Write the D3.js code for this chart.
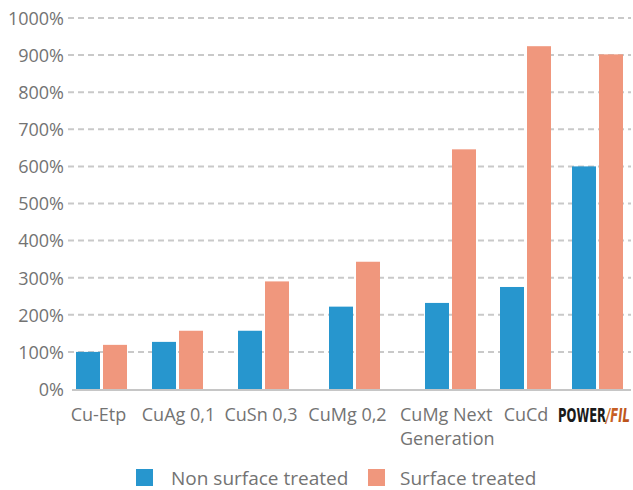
<!DOCTYPE html>
<html><head><meta charset="utf-8">
<script src="https://cdn.jsdelivr.net/npm/d3@7"></script>
<style>
html,body{margin:0;padding:0;background:#fff;}
svg{display:block;font-family:"Open Sans",sans-serif;}
</style></head>
<body>
<svg id="chart" width="633" height="490"></svg>
<script>
const categories = ["Cu-Etp","CuAg 0,1","CuSn 0,3","CuMg 0,2","CuMg Next Generation","CuCd","POWERFIL"];
const nonSurfaceTreated = [100,127,157,222,232,275,600];
const surfaceTreated = [119,157,290,343,646,924,902];
const seriesNames = ["Non surface treated","Surface treated"];
const yTicks = [0,100,200,300,400,500,600,700,800,900,1000];

const colors = {"Non surface treated":"#2796ce","Surface treated":"#f0977d"};
const svg = d3.select("#chart");

const y = d3.scaleLinear().domain([0,1000]).range([389,18]);
// group left edges (layout)
const x0 = d3.scaleOrdinal().domain(categories).range([76,152,238,329,425,500,572]);
const x1 = d3.scaleBand().domain(seriesNames).range([0,51]).paddingInner(0.111);
// label centres (layout)
const xl = d3.scaleOrdinal().domain(categories).range([98.5,178.5,261,347.5,446,526,594]);

// gridlines
svg.append("g").selectAll("line").data(yTicks.filter(d=>d>0)).join("line")
  .attr("x1",68).attr("x2",631).attr("y1",d=>y(d)).attr("y2",d=>y(d))
  .attr("stroke","#c9c9c9").attr("stroke-width",2).attr("stroke-dasharray","6,4");

// y axis labels
const yAxis = d3.axisLeft(y).tickValues(yTicks).tickFormat(d=>d+"%").tickSize(0).tickPadding(0);
const ga = svg.append("g").attr("transform","translate(64,0)").call(yAxis);
ga.select(".domain").remove();
ga.selectAll("text").attr("font-size",18).attr("fill","#737373").attr("font-family","Open Sans, sans-serif").attr("dy","0.35em");

// bars
const rows = categories.map((c,i)=>({cat:c, vals:[
  {s:seriesNames[0], v:nonSurfaceTreated[i]},
  {s:seriesNames[1], v:surfaceTreated[i]}]}));
const g = svg.append("g");
g.selectAll("g").data(rows).join("g")
  .attr("transform",d=>`translate(${x0(d.cat)},0)`)
  .selectAll("rect").data(d=>d.vals).join("rect")
  .attr("x",d=>x1(d.s)).attr("width",x1.bandwidth())
  .attr("y",d=>y(d.v)).attr("height",d=>y(0)-y(d.v))
  .attr("fill",d=>colors[d.s]);

// baseline
svg.append("line").attr("x1",72).attr("x2",631).attr("y1",y(0)+1).attr("y2",y(0)+1)
  .attr("stroke","#c6c6c6").attr("stroke-width",2);

// x labels
const defs = svg.append("defs");
const grad = defs.append("linearGradient").attr("id","filgrad").attr("x1","0").attr("x2","1");
grad.append("stop").attr("offset","0").attr("stop-color","#f2b27f");
grad.append("stop").attr("offset","0.5").attr("stop-color","#d9712f");
grad.append("stop").attr("offset","1").attr("stop-color","#b9501a");

categories.forEach(c=>{
  if(c==="POWERFIL"){
    const lx = xl(c) - 36;
    const lg = svg.append("g");
    const t = lg.append("text").attr("x",0).attr("y",0)
      .attr("font-family","DejaVu Sans, sans-serif").attr("font-size",20).attr("font-weight","bold");
    t.append("tspan").attr("fill","#1a1a1a").text("POWER");
    t.append("tspan").attr("font-style","italic").attr("fill","url(#filgrad)").text("/FIL");
    const w = t.node().getComputedTextLength();
    const k = 72 / w;
    lg.attr("transform",`translate(${lx},422) scale(${k},1)`);
  } else if(c==="CuMg Next Generation"){
    const t = svg.append("text").attr("x",400).attr("y",421).attr("font-size",18).attr("fill","#737373");
    t.append("tspan").attr("x",400).text("CuMg Next");
    t.append("tspan").attr("x",400).attr("dy",24).text("Generation");
  } else {
    svg.append("text").attr("x",xl(c)).attr("y",421).attr("text-anchor","middle")
      .attr("font-size",18).attr("fill","#737373").text(c);
  }
});

// legend
const leg = svg.append("g");
const legX = [136,368], legTX=[171,400];
seriesNames.forEach((s,i)=>{
  leg.append("rect").attr("x",legX[i]).attr("y",469).attr("width",17).attr("height",17).attr("fill",colors[s]);
  leg.append("text").attr("x",legTX[i]).attr("y",485).attr("font-size",19).attr("fill","#737373").text(s);
});
</script>
</body></html>
